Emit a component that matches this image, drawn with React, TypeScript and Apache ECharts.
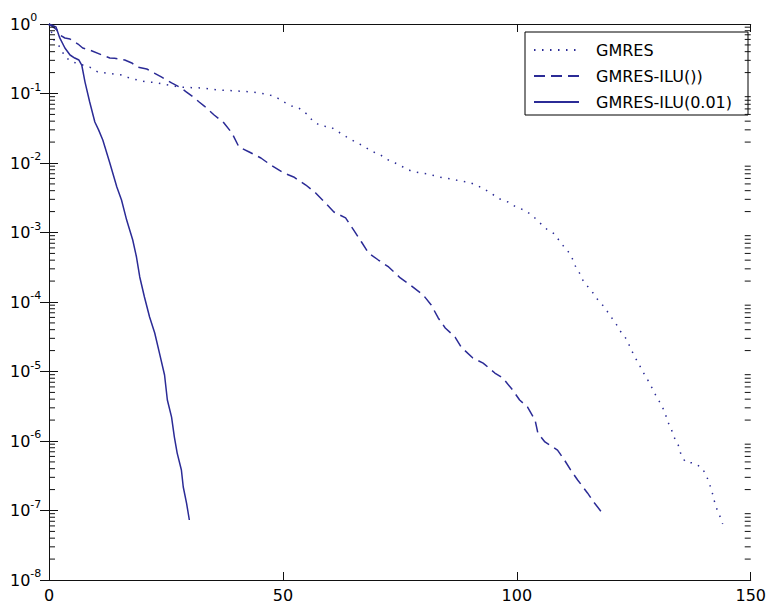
import React, { useEffect, useRef } from "react";
import * as echarts from "echarts";

const SERIES_NAMES = ["GMRES", "GMRES-ILU())", "GMRES-ILU(0.01)"];

const gmres: [number, number][] = [
  [0, 1], [1, 0.6], [2.5, 0.45], [3.4, 0.335], [5.1, 0.284], [8.7, 0.24], [10.4, 0.204],
  [12.3, 0.197], [14, 0.19], [15.5, 0.185], [17.2, 0.167], [19, 0.156], [20.9, 0.146],
  [22.5, 0.145], [24.3, 0.137], [27.9, 0.124], [29.4, 0.122], [32.8, 0.12], [36.4, 0.112],
  [40, 0.109], [43.4, 0.105], [46.6, 0.098], [48.5, 0.089], [50.2, 0.0755], [51.9, 0.066],
  [53.4, 0.0618], [55.1, 0.0507], [56.6, 0.0389], [58.3, 0.034], [60.2, 0.033], [61.9, 0.0279],
  [63.6, 0.0237], [65.5, 0.02], [67.2, 0.0176], [68.9, 0.0149], [70.9, 0.013], [72.1, 0.0114],
  [74, 0.01], [75.7, 0.00875], [77.4, 0.00767], [79.4, 0.00718], [81.1, 0.00695], [82.6, 0.0065],
  [84.3, 0.00608], [86, 0.00589], [87.9, 0.00551], [89.6, 0.00533], [91.3, 0.00482], [93, 0.00423],
  [94.7, 0.00358], [96.4, 0.00303], [98.1, 0.00275], [99.8, 0.00233], [101.5, 0.00211],
  [103.2, 0.00179], [104.7, 0.00142], [106.4, 0.00112], [108.1, 0.00095], [109.4, 0.000706],
  [110.9, 0.000542], [111.9, 0.000416], [112.6, 0.000319], [113.4, 0.000261], [114.3, 0.000194],
  [116, 0.000144], [117.2, 0.00011], [118.7, 8.47e-5], [120, 6.29e-5], [121.1, 4.99e-5],
  [122.1, 3.83e-5], [123.4, 2.94e-5], [125.1, 1.67e-5], [126, 1.32e-5], [127, 9.8e-6],
  [128.1, 7.3e-6], [128.9, 5.8e-6], [129.8, 4.4e-6], [130.9, 3.3e-6], [131.7, 2.53e-6],
  [132.2, 1.94e-6], [133, 1.49e-6], [133.6, 1.14e-6], [134.5, 8.75e-7], [135, 6.7e-7],
  [136, 5.0e-7], [137.9, 4.8e-7], [139.4, 4.2e-7], [140.4, 3.35e-7], [141.1, 2.49e-7],
  [141.7, 1.91e-7], [142.1, 1.46e-7], [142.6, 1.12e-7], [143.4, 8.3e-8], [144, 6.4e-8],
];

const gmresIlu: [number, number][] = [
  [0, 1], [1.7, 0.82], [2.3, 0.695], [3.4, 0.629], [4.5, 0.608], [6.2, 0.515], [7.2, 0.452],
  [8.7, 0.423], [11.3, 0.358], [13, 0.324], [14, 0.322], [16.2, 0.303], [17.7, 0.275],
  [18.9, 0.24], [20.9, 0.225], [22.5, 0.197], [24, 0.173], [26.2, 0.142], [27.9, 0.124],
  [29.4, 0.105], [31.1, 0.0861], [32.1, 0.0755], [33.2, 0.066], [35.3, 0.049], [37.4, 0.0377],
  [39.1, 0.027], [40.6, 0.017], [42.8, 0.0144], [45.3, 0.0118], [47.4, 0.00935], [50.2, 0.00718],
  [52.3, 0.00629], [54.9, 0.00482], [57, 0.0037], [59.1, 0.00265], [60.9, 0.00197],
  [63.4, 0.00162], [65.1, 0.00109], [66.8, 0.00073], [68.3, 0.000507], [70.4, 0.000402],
  [72.6, 0.000319], [75.1, 0.000222], [77.2, 0.000176], [80, 0.000126], [81.7, 9.06e-5],
  [83.2, 5.89e-5], [84.7, 4.23e-5], [86.8, 3.13e-5], [88.1, 2.25e-5], [90.6, 1.56e-5],
  [92.8, 1.32e-5], [95.3, 9.5e-6], [97, 8.05e-6], [99.1, 5.42e-6], [100.6, 3.89e-6],
  [102.3, 3.08e-6], [103.9, 2.0e-6], [104.5, 1.3e-6], [106, 9.7e-7], [108.7, 7.4e-7],
  [110.2, 5.3e-7], [111.5, 3.83e-7], [113, 2.75e-7], [115.1, 1.79e-7], [116.6, 1.28e-7],
  [118.1, 9.5e-8],
];

const gmresIlu001: [number, number][] = [
  [0, 1], [1.5, 0.906], [2.3, 0.63], [3.4, 0.452], [4.5, 0.358], [5.5, 0.324], [6.4, 0.303],
  [7.0, 0.257], [7.7, 0.146], [8.7, 0.0755], [9.8, 0.0389], [10.6, 0.03], [11.5, 0.0214],
  [13, 0.01], [14.5, 0.00452], [15.5, 0.00294], [16.6, 0.00151], [17.9, 0.00078],
  [18.7, 0.000444], [19.4, 0.000229], [20.4, 0.000118], [21.5, 6.08e-5], [22.6, 3.58e-5],
  [23.6, 1.85e-5], [24.7, 8.9e-6], [25.3, 3.89e-6], [26.2, 2.21e-6], [26.8, 1.14e-6],
  [27.4, 6.7e-7], [28.3, 3.83e-7], [28.7, 2.18e-7], [29.4, 1.28e-7], [30, 7.3e-8],
];

const X_TICKS = [0, 50, 100, 150];
const Y_DECADES = [-8, -7, -6, -5, -4, -3, -2, -1];
const MINOR_MULTIPLIERS = [2, 3, 4, 5, 6, 7, 8, 9];

const LINE_COLOR = "#2b2b96";
const AXIS_COLOR = "#111";
const FONT = "'DejaVu Sans', Arial, sans-serif";

export default function App() {
  const ref = useRef<HTMLDivElement>(null);

  useEffect(() => {
    if (!ref.current) return;
    const chart = echarts.init(ref.current, undefined, { renderer: "svg" });

    const xMin = X_TICKS[0];
    const xMax = X_TICKS[X_TICKS.length - 1];

    // minor tick positions on both the left and right frame edges
    const minorTicks: [number, number][] = [];
    Y_DECADES.forEach((d) => {
      MINOR_MULTIPLIERS.forEach((m) => {
        const v = m * Math.pow(10, d);
        minorTicks.push([xMin, v]);
        minorTicks.push([xMax, v]);
      });
    });

    const yLabelFormatter = (v: number) => {
      const e = Math.round(Math.log10(v));
      return `{b|10}{e|${e}}`;
    };

    const lineSeries = (name: string, data: [number, number][], type: any) => ({
      name,
      type: "line",
      data,
      symbol: "none",
      showSymbol: false,
      lineStyle: { color: LINE_COLOR, width: 1.5, type },
      itemStyle: { color: LINE_COLOR },
    });

    chart.setOption({
      animation: false,
      backgroundColor: "#fff",
      grid: { left: 49, top: 24, right: 15, bottom: 27, containLabel: false },
      legend: {
        left: 525,
        top: 32,
        orient: "vertical",
        itemWidth: 45,
        itemHeight: 14,
        itemGap: 10,
        padding: [10, 16, 5, 8],
        borderColor: "#000",
        borderWidth: 1,
        backgroundColor: "#fff",
        itemStyle: { opacity: 0 },
        textStyle: { color: "#000", fontSize: 16, fontFamily: FONT, padding: [0, 0, 0, 12] },
        data: SERIES_NAMES,
      },
      xAxis: [
        {
          type: "value",
          min: xMin,
          max: xMax,
          interval: 50,
          position: "bottom",
          axisLine: { lineStyle: { color: AXIS_COLOR, width: 1 } },
          axisTick: { inside: true, length: 8, lineStyle: { color: AXIS_COLOR } },
          axisLabel: { color: "#000", fontSize: 16, fontFamily: FONT, margin: 7 },
          splitLine: { show: false },
        },
        {
          type: "value",
          min: xMin,
          max: xMax,
          interval: 50,
          position: "top",
          axisLine: { lineStyle: { color: AXIS_COLOR, width: 1 } },
          axisTick: { inside: true, length: 8, lineStyle: { color: AXIS_COLOR } },
          axisLabel: { show: false },
          splitLine: { show: false },
        },
      ],
      yAxis: [
        {
          type: "log",
          logBase: 10,
          min: 1e-8,
          max: 1,
          position: "left",
          axisLine: { show: true, lineStyle: { color: AXIS_COLOR, width: 1 } },
          axisTick: { show: true, inside: true, length: 9, lineStyle: { color: AXIS_COLOR } },
          axisLabel: {
            formatter: yLabelFormatter,
            align: "left",
            margin: 39,
            rich: {
              b: { fontSize: 16, fontFamily: FONT, color: "#000", verticalAlign: "bottom", lineHeight: 16 },
              e: { fontSize: 11, fontFamily: FONT, color: "#000", verticalAlign: "bottom", lineHeight: 11, padding: [0, 0, 9, 0] },
            },
          },
          splitLine: { show: false },
        },
        {
          type: "log",
          logBase: 10,
          min: 1e-8,
          max: 1,
          position: "right",
          axisLine: { show: true, lineStyle: { color: AXIS_COLOR, width: 1 } },
          axisTick: { show: true, inside: true, length: 9, lineStyle: { color: AXIS_COLOR } },
          axisLabel: { show: false },
          splitLine: { show: false },
        },
      ],
      series: [
        lineSeries(SERIES_NAMES[0], gmres, [1.5, 6.5]),
        lineSeries(SERIES_NAMES[1], gmresIlu, [11, 6]),
        lineSeries(SERIES_NAMES[2], gmresIlu001, "solid"),
        {
          type: "custom",
          silent: true,
          z: 10,
          clip: false,
          data: minorTicks,
          renderItem: (params: any, api: any) => {
            const xv = api.value(0);
            const v = api.value(1);
            const p = api.coord([xv, v]);
            const isLeft = xv <= xMin;
            const x1 = isLeft ? p[0] : p[0] - 6;
            const x2 = isLeft ? p[0] + 6 : p[0];
            return {
              type: "line",
              shape: { x1, y1: p[1], x2, y2: p[1] },
              style: { stroke: AXIS_COLOR, lineWidth: 1 },
            };
          },
        },
      ],
    });

    return () => chart.dispose();
  }, []);

  return <div ref={ref} style={{ width: 769, height: 607, position: "absolute", left: 0, top: 0 }} />;
}
